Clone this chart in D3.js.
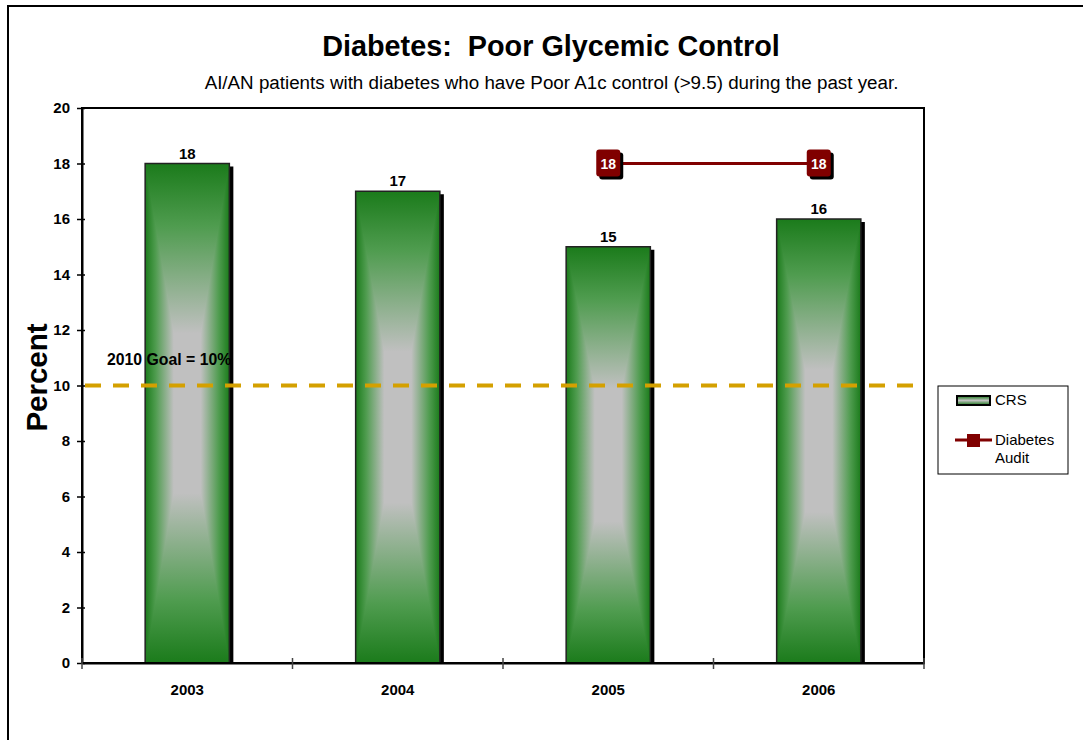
<!DOCTYPE html>
<html>
<head>
<meta charset="utf-8">
<script src="https://cdn.jsdelivr.net/npm/d3@7"></script>
<style>
  html, body { margin: 0; padding: 0; background: #fff; }
  svg { display: block; font-family: Arial, "Liberation Sans", sans-serif; }
  .pre { white-space: pre; }
</style>
</head>
<body>
<svg id="chart" width="1083" height="740"></svg>
<script>
// Chart data
const years = ["2003", "2004", "2005", "2006"];
const crsValues = [18, 17, 15, 16];
const auditYears = ["2005", "2006"];
const auditValues = [18, 18];
const yTicks = [0, 2, 4, 6, 8, 10, 12, 14, 16, 18, 20];
const goalValue = 10;
const goalLabel = "2010 Goal = 10%";
const titleText = "Diabetes:  Poor Glycemic Control";
const subtitleText = "AI/AN patients with diabetes who have Poor A1c control (>9.5) during the past year.";
const yAxisTitle = "Percent";
const legendNames = ["CRS", "Diabetes", "Audit"];

const svg = d3.select("#chart");
const plot = { left: 82, top: 108, right: 924, bottom: 663 };

const GREEN = "#1b7b1b";
const MID = "#4f9c4f";
const SILVER = "#c0c0c0";
const MAROON = "#800000";

// Gradients for the rectangular "from centre" bar fill:
// a symmetric horizontal gradient under two vertical-gradient triangles
const defs = svg.append("defs");
const edgeStops = [[0, GREEN], [0.25, MID], [0.68, SILVER], [1, SILVER]];
function addGrad(id, x2, y2, stops) {
  const g = defs.append("linearGradient").attr("id", id)
    .attr("x1", 0).attr("y1", 0).attr("x2", x2).attr("y2", y2);
  stops.forEach(([o, c]) => g.append("stop").attr("offset", o).attr("stop-color", c));
}
const halfStops = edgeStops.map(([o, c]) => [o / 2, c]);
const symStops = halfStops.concat(halfStops.slice().reverse().map(([o, c]) => [1 - o, c]));
addGrad("gH", 1, 0, symStops);
addGrad("gT", 0, 1, edgeStops);
addGrad("gB", 0, 1, edgeStops.map(([o, c]) => [1 - o, c]).reverse());

// Outer chart frame
svg.append("rect").attr("x", 8).attr("y", 6).attr("width", 1200).attr("height", 900)
  .attr("fill", "none").attr("stroke", "#000").attr("stroke-width", 2);

// Scales
const x = d3.scaleBand().domain(years).range([plot.left, plot.right])
  .paddingInner(0.6).paddingOuter(0.3);
const y = d3.scaleLinear().domain([0, 20]).range([plot.bottom, plot.top]);
const xCenter = d => x(d) + x.bandwidth() / 2;

// Bars
const bars = svg.append("g").selectAll("g").data(years.map((yr, i) => ({ yr, v: crsValues[i] })))
  .join("g");
bars.append("rect")
  .attr("x", d => x(d.yr) + 4).attr("y", d => y(d.v) + 3)
  .attr("width", x.bandwidth()).attr("height", d => y(0) - y(d.v) - 3)
  .attr("fill", "#000");
bars.each(function (d) {
  const g = d3.select(this);
  const x0 = x(d.yr), x1 = x0 + x.bandwidth();
  const y0 = y(d.v), y1 = y(0);
  const cx = (x0 + x1) / 2, cy = (y0 + y1) / 2;
  g.append("rect").attr("x", x0).attr("y", y0).attr("width", x1 - x0).attr("height", y1 - y0)
    .attr("fill", "url(#gH)");
  const tri = (pts, id) => g.append("path")
    .attr("d", "M" + pts.map(p => p.join(",")).join("L") + "Z")
    .attr("fill", `url(#${id})`);
  tri([[x0, y0], [x1, y0], [cx, cy]], "gT");
  tri([[x0, y1], [x1, y1], [cx, cy]], "gB");
  g.append("rect").attr("x", x0).attr("y", y0).attr("width", x1 - x0).attr("height", y1 - y0)
    .attr("fill", "none").attr("stroke", "#222").attr("stroke-width", 1.5);
});
bars.append("text")
  .attr("x", d => xCenter(d.yr)).attr("y", d => y(d.v) - 5)
  .attr("text-anchor", "middle").attr("font-size", 15).attr("font-weight", "bold")
  .text(d => d.v);

// Goal line
svg.append("line")
  .attr("x1", plot.left + 2).attr("x2", plot.right - 2)
  .attr("y1", y(goalValue)).attr("y2", y(goalValue))
  .attr("stroke", "#d4a000").attr("stroke-width", 4)
  .attr("stroke-dasharray", "16,12").attr("stroke-dashoffset", -1);
svg.append("text").attr("x", 107).attr("y", y(goalValue) - 21)
  .attr("font-size", 15.8).attr("font-weight", "bold").text(goalLabel);

// Plot area border
svg.append("rect").attr("x", plot.left).attr("y", plot.top)
  .attr("width", plot.right - plot.left).attr("height", plot.bottom - plot.top)
  .attr("fill", "none").attr("stroke", "#000").attr("stroke-width", 2);

// Diabetes Audit line with labelled markers
const audit = auditYears.map((yr, i) => ({ yr, v: auditValues[i] }));
svg.append("path").datum(audit)
  .attr("d", d3.line().x(d => xCenter(d.yr)).y(d => y(d.v)))
  .attr("fill", "none").attr("stroke", MAROON).attr("stroke-width", 3);
const mk = svg.append("g").selectAll("g").data(audit).join("g")
  .attr("transform", d => `translate(${xCenter(d.yr)},${y(d.v)})`);
mk.append("rect").attr("x", -9).attr("y", -11).attr("width", 24).attr("height", 27)
  .attr("rx", 3).attr("fill", "#000");
mk.append("rect").attr("x", -12).attr("y", -14).attr("width", 24).attr("height", 27)
  .attr("rx", 3).attr("fill", MAROON);
mk.append("text").attr("y", 5).attr("text-anchor", "middle")
  .attr("font-size", 14).attr("font-weight", "bold").attr("fill", "#fff")
  .text(d => d.v);

// Axes
const yAxis = svg.append("g").attr("transform", `translate(${plot.left},0)`)
  .call(d3.axisLeft(y).tickValues(yTicks).tickSize(0).tickPadding(12));
yAxis.select(".domain").attr("stroke", "#000").attr("stroke-width", 2);
yAxis.selectAll(".tick text").attr("font-size", 15).attr("font-weight", "bold")
  .attr("font-family", "Arial, 'Liberation Sans', sans-serif").attr("fill", "#000");
yAxis.selectAll(".tick").append("line").attr("x1", -5).attr("x2", 3)
  .attr("stroke", "#000").attr("stroke-width", 1.5);

const xAxis = svg.append("g").attr("transform", `translate(0,${plot.bottom})`)
  .call(d3.axisBottom(x).tickSize(0).tickPadding(21));
xAxis.select(".domain").attr("stroke", "#000").attr("stroke-width", 2);
xAxis.selectAll(".tick text").attr("font-size", 15).attr("font-weight", "bold")
  .attr("font-family", "Arial, 'Liberation Sans', sans-serif").attr("fill", "#000");
const step = x.step();
const boundaries = d3.range(years.length + 1).map(i => plot.left + i * step);
xAxis.selectAll(".bound").data(boundaries).join("line").attr("class", "bound")
  .attr("x1", d => d).attr("x2", d => d).attr("y1", -5).attr("y2", 6)
  .attr("stroke", "#444").attr("stroke-width", 1.5);

// Titles
svg.append("text").attr("class", "pre").attr("x", 551).attr("y", 56).attr("text-anchor", "middle")
  .attr("font-size", 28.8).attr("font-weight", "bold").text(titleText);
svg.append("text").attr("x", 551.5).attr("y", 89).attr("text-anchor", "middle")
  .attr("font-size", 18.8).text(subtitleText);
svg.append("text").attr("transform", "translate(47,377.5) rotate(-90)")
  .attr("text-anchor", "middle").attr("font-size", 29.5).attr("font-weight", "bold")
  .text(yAxisTitle);

// Legend
const lg = svg.append("g");
lg.append("rect").attr("x", 938).attr("y", 386).attr("width", 130).attr("height", 88)
  .attr("fill", "#fff").attr("stroke", "#000").attr("stroke-width", 1);
const sw = defs.append("linearGradient").attr("id", "gSw").attr("x1", 0).attr("y1", 0).attr("x2", 0).attr("y2", 1);
sw.append("stop").attr("offset", "0%").attr("stop-color", GREEN);
sw.append("stop").attr("offset", "50%").attr("stop-color", SILVER);
sw.append("stop").attr("offset", "100%").attr("stop-color", GREEN);
lg.append("rect").attr("x", 957).attr("y", 396).attr("width", 33).attr("height", 9)
  .attr("fill", "url(#gSw)").attr("stroke", "#000").attr("stroke-width", 2);
lg.append("text").attr("x", 995).attr("y", 405).attr("font-size", 15).text(legendNames[0]);
lg.append("line").attr("x1", 955).attr("x2", 992).attr("y1", 440).attr("y2", 440)
  .attr("stroke", MAROON).attr("stroke-width", 3);
lg.append("rect").attr("x", 967).attr("y", 434).attr("width", 13).attr("height", 13)
  .attr("fill", MAROON);
lg.append("text").attr("x", 995).attr("y", 445).attr("font-size", 15).text(legendNames[1]);
lg.append("text").attr("x", 995).attr("y", 463).attr("font-size", 15).text(legendNames[2]);
</script>
</body>
</html>
